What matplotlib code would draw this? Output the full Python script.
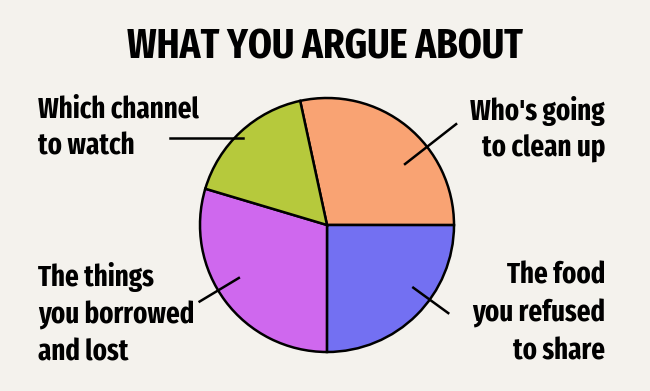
import numpy as np
import matplotlib
matplotlib.use("Agg")
import matplotlib.pyplot as plt

# slice data, clockwise from the top
topics = ["Who's going\nto clean up", "The food\nyou refused\nto share",
          "The things\nyou borrowed\nand lost", "Which channel\nto watch"]
shares = [28.4, 25.0, 29.6, 17.0]
colors = ["#F9A373", "#7370F2", "#CF68EE", "#B6C93C"]
title = "WHAT YOU ARGUE ABOUT"

bg = "#F4F2ED"
font = ["Fira Sans Extra Condensed", "DejaVu Sans"]

W, H = 650, 391
cx, cy, R = 327, H - 225, 127  # pie center/radius in pixel units

fig = plt.figure(figsize=(6.5, 3.91), dpi=100, facecolor=bg)
ax = fig.add_axes([0, 0, 1, 1])
ax.set_facecolor(bg)

wedges, _ = ax.pie(shares, colors=colors, startangle=102.2, counterclock=False,
                   center=(cx, cy), radius=R,
                   wedgeprops=dict(edgecolor="black", linewidth=1.8))

# leader lines: (angle deg, inner r, outer r) per slice
leaders = [(38, 0.77, 1.30), (-36, 0.83, 1.19), (211, 0.80, 1.18)]
for ang, r0, r1 in leaders:
    a = np.deg2rad(ang)
    ax.plot([cx + r0 * R * np.cos(a), cx + r1 * R * np.cos(a)],
            [cy + r0 * R * np.sin(a), cy + r1 * R * np.sin(a)],
            color="black", lw=1.8, solid_capstyle="butt")
# green one is horizontal
a = np.deg2rad(134)
gx, gy = cx + 0.95 * R * np.cos(a), cy + 0.95 * R * np.sin(a)
ax.plot([gx, 170], [gy, gy], color="black", lw=1.8)

ax.text(W / 2, H - 47, title, ha="center", va="center", fontsize=30,
        fontweight="bold", family=font)

# label placement: x, top y, alignment
label_pos = [(605, 96, "right"), (605, 262, "right"), (38, 262, "left"), (38, 96, "left")]
for txt, (x, y, ha) in zip(topics, label_pos):
    ax.text(x, H - y, txt, ha=ha, va="top", fontsize=21, fontweight="bold",
            family=font, linespacing=1.4)

ax.set_xlim(0, W)
ax.set_ylim(0, H)
ax.set_aspect("equal")
ax.axis("off")
fig.savefig("out.png", dpi=100, facecolor=bg)
